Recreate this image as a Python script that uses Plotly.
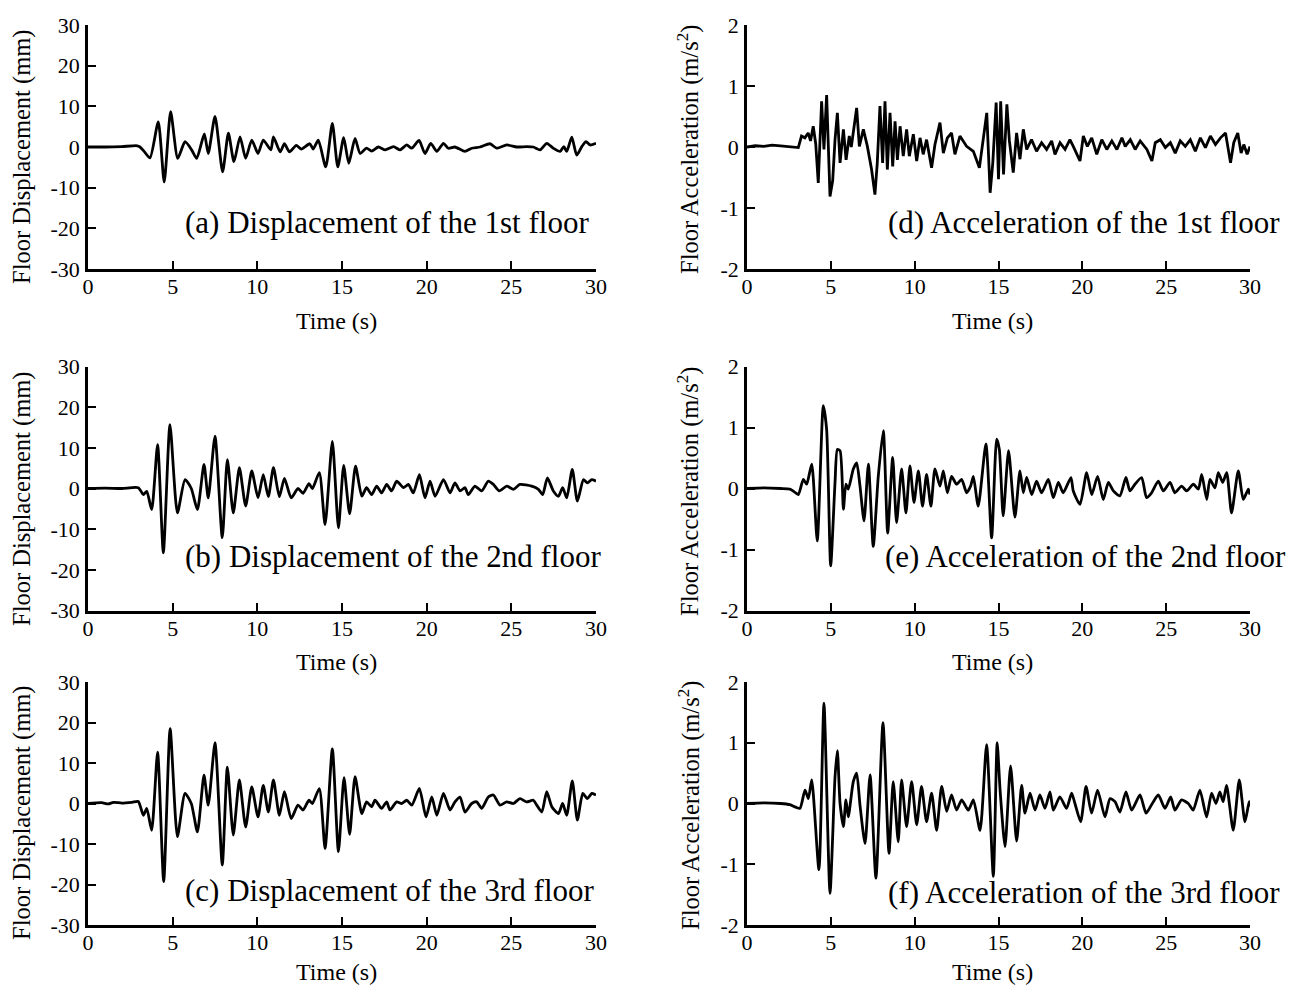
import plotly.graph_objects as go

# ---------------- data (time s, value) ----------------
disp_1f = [(0, 0), (1.0, 0), (2.0, 0.1), (2.9, 0.3), (3.07, 0), (3.3, -1.0), (3.66, -2.7), (4.15, 6.2),
           (4.5, -8.6), (4.88, 8.7), (5.3, -2.8), (5.73, 1.3), (6.12, -0.7), (6.42, -2.8), (6.87, 3.2),
           (7.1, -1.6), (7.5, 7.5), (7.95, -6.1), (8.29, 3.4), (8.62, -3.6), (8.98, 2.5), (9.31, -2.8),
           (9.67, 1.7), (10.04, -1.6), (10.35, 1.7), (10.8, -0.7), (10.95, 2.5), (11.35, -1.2), (11.6, 0.8),
           (11.9, -1.2), (12.3, 0.4), (12.6, -0.5), (13.1, 0.8), (13.3, -0.5), (13.6, 1.7), (14.04, -4.9),
           (14.43, 5.8), (14.75, -4.9), (15.1, 2.3), (15.4, -4.0), (15.77, 2.1), (16.07, -1.6), (16.45, -0.3),
           (16.75, -1.0), (17.15, 0), (17.55, -0.7), (18.04, 0.1), (18.43, -0.7), (18.82, 0.5), (19.12, -0.3),
           (19.55, 1.6), (19.9, -1.6), (20.24, 0.9), (20.6, -1.1), (20.99, 0.9), (21.28, -0.3), (21.67, 0),
           (22.26, -1.1), (22.66, -0.3), (23.15, 0), (23.74, 0.8), (24.14, -0.3), (24.73, 0.5), (25.32, 0),
           (25.91, 0.1), (26.3, 0), (26.7, -0.7), (27.09, 0.9), (27.48, -0.3), (27.88, -1.1), (28.1, 0.1),
           (28.27, -1.1), (28.57, 2.4), (28.86, -2.0), (29.16, 0.1), (29.41, 1.3), (29.65, 0.5), (30.0, 0.9)]

disp_2f = [(0, 0), (1.0, 0.1), (2.0, 0), (2.97, 0.2), (3.27, -1.5), (3.47, -0.7), (3.76, -5.2), (4.11, 10.8),
           (4.45, -15.8), (4.84, 15.7), (5.28, -6.0), (5.73, 2.2), (6.1, 0), (6.46, -5.2), (6.85, 5.9),
           (7.1, -2.3), (7.5, 12.9), (7.93, -12.1), (8.23, 7.1), (8.58, -6.0), (8.94, 5.1), (9.31, -4.3),
           (9.67, 4.3), (10.04, -2.3), (10.35, 3.4), (10.65, -2.0), (10.95, 5.1), (11.3, -2.0), (11.6, 2.5),
           (12.0, -2.3), (12.4, 0), (12.7, -1.2), (13.05, 1.2), (13.25, 0), (13.66, 3.9), (14.0, -8.9),
           (14.43, 11.6), (14.79, -9.7), (15.1, 5.7), (15.45, -6.2), (15.8, 5.5), (16.17, -1.9), (16.45, 0.2),
           (16.75, -1.5), (17.05, 0.6), (17.34, -1.1), (17.64, 1.0), (17.93, -0.6), (18.23, 1.8), (18.63, 0.2),
           (18.92, 1.0), (19.21, -1.1), (19.57, 3.4), (19.9, -2.3), (20.2, 1.8), (20.5, -1.9), (20.99, 2.2),
           (21.38, -1.1), (21.67, 1.4), (21.97, -0.6), (22.26, 0.2), (22.46, -1.5), (22.85, 0.6), (23.25, -0.6),
           (23.64, 1.8), (23.94, 1.0), (24.29, -0.6), (24.73, 0.6), (25.12, -0.2), (25.51, 1.0), (26.2, 0.6),
           (26.6, -0.2), (26.85, -1.5), (27.13, 2.6), (27.48, -0.6), (27.78, -1.9), (28.03, 0.2), (28.27, -2.3),
           (28.6, 4.7), (28.9, -3.1), (29.26, 2.2), (29.49, 1.4), (29.75, 2.2), (30.0, 1.8)]

disp_3f = [(0, 0), (0.8, 0.2), (1.2, -0.1), (1.5, 0.3), (2.0, 0.1), (2.6, 0.3), (2.97, 0.5), (3.27, -2.9),
           (3.47, -1.2), (3.76, -6.6), (4.11, 12.7), (4.47, -19.3), (4.85, 18.5), (5.28, -8.2), (5.73, 2.5),
           (6.1, 0), (6.46, -7.0), (6.85, 7.0), (7.1, -0.4), (7.5, 15.0), (7.93, -15.2), (8.23, 9.0),
           (8.58, -7.8), (8.94, 5.8), (9.31, -5.8), (9.67, 4.1), (10.04, -3.3), (10.35, 4.5), (10.65, -2.1),
           (10.95, 5.8), (11.3, -2.9), (11.6, 2.9), (12.0, -3.7), (12.4, -0.4), (12.7, -1.6), (13.05, 0.8),
           (13.25, 0), (13.66, 3.7), (14.0, -11.1), (14.43, 13.5), (14.79, -11.9), (15.12, 6.4), (15.45, -7.6),
           (15.77, 6.6), (16.17, -2.5), (16.45, 0.4), (16.75, -0.8), (16.95, 0.8), (17.34, -1.2), (17.64, 0.4),
           (17.83, -1.6), (18.23, 0.4), (18.53, 0), (18.82, 0.8), (19.12, -0.4), (19.57, 3.7), (19.96, -3.3),
           (20.3, 1.6), (20.6, -2.9), (20.99, 2.5), (21.38, -1.6), (21.67, 0.4), (21.97, 1.6), (22.26, -2.1),
           (22.66, 0), (22.95, 0.4), (23.25, -1.2), (23.64, 1.6), (23.94, 2.1), (24.33, -0.4), (24.73, 0.4),
           (25.12, 0), (25.51, 1.2), (25.9, 0.4), (26.3, 0.8), (26.5, -0.4), (26.8, -2.1), (27.09, 2.9),
           (27.39, -0.8), (27.78, -2.5), (28.03, 0), (28.27, -2.9), (28.6, 5.6), (28.9, -4.1), (29.22, 2.5),
           (29.49, 1.2), (29.75, 2.5), (30.0, 2.1)]

acc_1f = [(0, 0), (0.5, 0.02), (1.0, 0.01), (1.5, 0.03), (2.0, 0.02), (2.5, 0.01), (3.06, -0.01), (3.25, 0.18),
          (3.45, 0.15), (3.65, 0.23), (3.79, 0.1), (3.95, 0.34), (4.1, 0.05), (4.25, -0.59), (4.45, 0.75),
          (4.59, -0.04), (4.75, 0.85), (4.95, -0.81), (5.11, -0.55), (5.25, 0.12), (5.39, 0.56), (5.55, -0.26),
          (5.75, 0.29), (5.91, -0.21), (6.1, 0.18), (6.22, 0.0), (6.34, 0.23), (6.54, 0.64), (6.7, 0.01),
          (6.94, 0.29), (7.18, 0.01), (7.43, -0.37), (7.63, -0.78), (7.77, -0.26), (7.93, 0.67), (8.09, -0.26),
          (8.23, 0.75), (8.37, -0.37), (8.53, 0.56), (8.69, -0.32), (8.83, 0.42), (8.97, -0.21), (9.13, 0.34),
          (9.32, -0.15), (9.52, 0.29), (9.68, -0.15), (9.92, 0.21), (10.12, -0.23), (10.32, 0.15), (10.51, -0.12),
          (10.71, 0.12), (11.01, -0.34), (11.21, 0.04), (11.51, 0.4), (11.71, -0.1), (11.95, 0.15), (12.2, 0.23),
          (12.4, -0.12), (12.7, 0.18), (13.1, 0.01), (13.5, -0.07), (13.86, -0.34), (14.1, 0.15), (14.3, 0.56),
          (14.5, -0.75), (14.66, -0.26), (14.86, 0.73), (15.0, -0.53), (15.13, 0.75), (15.3, -0.45), (15.5, 0.7),
          (15.65, 0.1), (15.88, -0.42), (16.08, 0.23), (16.28, -0.2), (16.48, 0.29), (16.68, -0.04), (16.97, 0.12),
          (17.27, -0.07), (17.57, 0.07), (17.87, -0.04), (18.17, 0.1), (18.37, -0.12), (18.67, 0.07),
          (18.97, -0.04), (19.26, 0.12), (19.46, 0.01), (19.86, -0.23), (20.06, 0.18), (20.3, 0.01), (20.56, 0.15),
          (20.86, -0.12), (21.16, 0.12), (21.46, -0.04), (21.76, 0.1), (22.06, -0.04), (22.36, 0.15), (22.56, 0.01),
          (22.86, 0.12), (23.15, -0.04), (23.45, 0.1), (23.85, -0.04), (24.15, -0.23), (24.35, 0.07), (24.65, 0.12),
          (24.95, -0.01), (25.25, 0.07), (25.54, -0.1), (25.84, 0.1), (26.14, 0.01), (26.44, 0.12), (26.74, -0.07),
          (27.04, 0.15), (27.34, -0.01), (27.64, 0.18), (27.94, 0.04), (28.24, 0.15), (28.54, 0.23), (28.84, -0.26),
          (29.03, 0.07), (29.27, 0.23), (29.47, -0.1), (29.63, 0.04), (29.83, -0.12), (30.0, 0.01)]

acc_2f = [(0, 0), (1.0, 0.01), (2.0, 0), (2.56, -0.01), (2.8, -0.05), (3.06, -0.1), (3.36, 0.15), (3.56, 0.07),
          (3.86, 0.4), (4.19, -0.86), (4.55, 1.36), (4.75, 0.97), (4.99, -1.27), (5.25, 0.1), (5.39, 0.64),
          (5.55, 0.62), (5.75, -0.34), (5.9, 0.07), (6.04, -0.01), (6.34, 0.32), (6.54, 0.42), (6.74, 0.04),
          (6.98, -0.53), (7.24, 0.4), (7.53, -0.95), (7.83, 0.2), (8.13, 0.95), (8.39, -0.73), (8.69, 0.51),
          (8.92, -0.56), (9.22, 0.32), (9.48, -0.4), (9.72, 0.37), (9.96, -0.23), (10.22, 0.29), (10.47, -0.29),
          (10.71, 0.23), (10.97, -0.29), (11.21, 0.32), (11.51, 0.04), (11.71, 0.29), (11.95, -0.07), (12.2, 0.2),
          (12.5, 0.07), (12.8, 0.15), (13.1, -0.07), (13.34, 0.04), (13.5, 0.2), (13.79, -0.29), (14.25, 0.73),
          (14.59, -0.81), (14.89, 0.81), (15.05, 0.64), (15.28, -0.45), (15.6, 0.62), (15.98, -0.47), (16.28, 0.29),
          (16.48, -0.07), (16.68, 0.18), (16.98, -0.1), (17.27, 0.12), (17.57, -0.07), (17.97, 0.15), (18.27, -0.15),
          (18.57, 0.1), (18.86, -0.07), (19.32, 0.18), (19.46, -0.04), (19.86, -0.26), (20.26, 0.26), (20.56, -0.1),
          (20.91, 0.2), (21.25, -0.18), (21.55, 0.1), (21.85, -0.04), (22.24, -0.12), (22.6, 0.18), (22.84, -0.04),
          (23.14, 0.07), (23.54, 0.18), (23.83, -0.15), (24.13, -0.07), (24.53, 0.12), (24.83, -0.04), (25.23, 0.1),
          (25.52, -0.07), (25.92, 0.04), (26.22, -0.04), (26.62, 0.07), (26.92, -0.01), (27.12, 0.23),
          (27.42, -0.18), (27.61, 0.15), (27.91, 0.01), (28.11, 0.26), (28.37, 0.1), (28.61, 0.26), (28.9, -0.4),
          (29.3, 0.29), (29.6, -0.18), (29.9, -0.01), (30.0, -0.1)]

acc_3f = [(0, 0), (1.0, 0.01), (2.0, 0), (2.56, -0.02), (2.9, -0.06), (3.16, -0.08), (3.46, 0.22), (3.66, 0.08),
          (3.86, 0.39), (4.29, -1.09), (4.59, 1.65), (4.95, -1.48), (5.25, 0.44), (5.39, 0.87), (5.55, 0),
          (5.75, -0.38), (5.9, 0.06), (6.04, -0.22), (6.34, 0.36), (6.54, 0.5), (6.74, -0.03), (7.04, -0.66),
          (7.34, 0.47), (7.69, -1.23), (8.11, 1.33), (8.47, -0.82), (8.72, 0.36), (9.02, -0.63), (9.22, 0.39),
          (9.52, -0.38), (9.82, 0.36), (10.12, -0.35), (10.41, 0.28), (10.71, -0.3), (11.01, 0.17), (11.31, -0.44),
          (11.61, 0.28), (11.91, -0.13), (12.2, 0.14), (12.5, -0.11), (12.8, 0.06), (13.2, -0.11), (13.5, 0.06),
          (13.9, -0.44), (14.29, 0.97), (14.69, -1.2), (14.92, 1.0), (15.1, 0.2), (15.39, -0.71), (15.72, 0.62),
          (16.08, -0.62), (16.38, 0.3), (16.58, -0.16), (16.88, 0.17), (17.18, -0.11), (17.47, 0.14), (17.77, -0.08),
          (18.07, 0.19), (18.27, -0.11), (18.66, 0.11), (19.06, -0.08), (19.36, 0.17), (19.56, 0), (19.9, -0.3),
          (20.22, 0.28), (20.55, -0.16), (20.91, 0.22), (21.35, -0.22), (21.65, 0.08), (21.95, 0.03), (22.24, -0.14),
          (22.6, 0.19), (22.94, -0.11), (23.44, 0.14), (23.8, -0.16), (24.13, -0.02), (24.53, 0.14), (24.93, -0.08),
          (25.27, 0.11), (25.52, -0.11), (25.92, 0.06), (26.32, 0), (26.61, -0.11), (27.01, 0.22), (27.41, -0.22),
          (27.71, 0.17), (27.97, 0), (28.2, 0.19), (28.4, 0.03), (28.6, 0.3), (29.0, -0.44), (29.36, 0.39),
          (29.7, -0.3), (29.95, 0.03), (30.0, -0.05)]

time_ticks = [0, 5, 10, 15, 20, 25, 30]
disp_ticks = [-30, -20, -10, 0, 10, 20, 30]
acc_ticks = [-2, -1, 0, 1, 2]
disp_title = "Floor Displacement (mm)"
acc_title = "Floor Acceleration (m/s<sup>2</sup>)"
time_title = "Time (s)"
panel_labels = ["(a) Displacement of the 1st floor", "(b) Displacement of the 2nd floor",
                "(c) Displacement of the 3rd floor", "(d) Acceleration of the 1st floor",
                "(e) Acceleration of the 2nd floor", "(f) Acceleration of the 3rd floor"]

# ---------------- layout helpers (window pixels -> paper) ----------------
W, H, OFF = 1282, 978, 8
def px(x):
    return (x - OFF) / W
def py(y):
    return 1 - (y - OFF) / H

FONT = "Liberation Serif"
rows = [(25, 269), (366.5, 610.5), (682, 925)]
cols = [(88, 596), (747, 1250)]

panels = [
    dict(data=disp_1f, col=0, row=0, ticks=disp_ticks, rng=[-30, 30], spline=True, lab=(183, 222), ytc=157),
    dict(data=disp_2f, col=0, row=1, ticks=disp_ticks, rng=[-30, 30], spline=True, lab=(183, 556), ytc=499),
    dict(data=disp_3f, col=0, row=2, ticks=disp_ticks, rng=[-30, 30], spline=True, lab=(183, 890), ytc=813),
    dict(data=acc_1f, col=1, row=0, ticks=acc_ticks, rng=[-2, 2], spline=False, lab=(886, 222), ytc=150),
    dict(data=acc_2f, col=1, row=1, ticks=acc_ticks, rng=[-2, 2], spline=True, lab=(883, 556), ytc=492),
    dict(data=acc_3f, col=1, row=2, ticks=acc_ticks, rng=[-2, 2], spline=True, lab=(886, 892), ytc=806),
]

fig = go.Figure()
layout = dict(width=W, height=H, margin=dict(l=0, r=0, t=0, b=0, autoexpand=False), paper_bgcolor="white",
              plot_bgcolor="white", showlegend=False, font=dict(family=FONT, color="black"),
              template="none")
annotations = []
axis_common = dict(showline=True, linecolor="black", linewidth=2.5, ticks="inside", ticklen=8,
                   tickwidth=2, tickcolor="black", showgrid=False, zeroline=False, mirror=False,
                   automargin=False, tickfont=dict(family=FONT, size=22, color="black"))

for i, p in enumerate(panels):
    k = "" if i == 0 else str(i + 1)
    t = [d[0] for d in p["data"]]
    v = [d[1] for d in p["data"]]
    line = dict(color="black", width=2.8)
    if p["spline"]:
        line.update(shape="spline", smoothing=0.6)
    fig.add_trace(go.Scatter(x=t, y=v, mode="lines", line=line, xaxis="x" + k, yaxis="y" + k,
                             hoverinfo="skip"))
    x0, x1 = cols[p["col"]]
    y0, y1 = rows[p["row"]]
    layout["xaxis" + k] = dict(axis_common, domain=[px(x0), px(x1)], range=[0, 30], anchor="y" + k,
                               tickvals=time_ticks, ticktext=[str(s) for s in time_ticks],
                               ticklabelstandoff=-4)
    layout["yaxis" + k] = dict(axis_common, domain=[py(y1), py(y0)], range=p["rng"], anchor="x" + k,
                               tickvals=p["ticks"], ticktext=[str(s) for s in p["ticks"]],
                               ticklabelstandoff=1)
    # x title
    xt_y = {0: 321, 1: 662, 2: 972}[p["row"]]
    annotations.append(dict(text=time_title, x=px((x0 + x1) / 2 - 6), y=py(xt_y), xref="paper", yref="paper",
                            showarrow=False, xanchor="center", yanchor="middle",
                            font=dict(family=FONT, size=24, color="black")))
    # y title
    yt_x = 22 if p["col"] == 0 else 689
    annotations.append(dict(text=disp_title if p["col"] == 0 else acc_title, x=px(yt_x), y=py(p["ytc"]),
                            xref="paper", yref="paper", showarrow=False, textangle=-90,
                            xanchor="center", yanchor="middle",
                            font=dict(family=FONT, size=24.5, color="black")))
    # panel label
    annotations.append(dict(text=panel_labels[i], x=px(p["lab"][0]), y=py(p["lab"][1]), xref="paper",
                            yref="paper", showarrow=False, xanchor="left", yanchor="middle",
                            font=dict(family=FONT, size=31, color="black")))

layout["annotations"] = annotations
fig.update_layout(**layout)
fig.write_html("out.html")
